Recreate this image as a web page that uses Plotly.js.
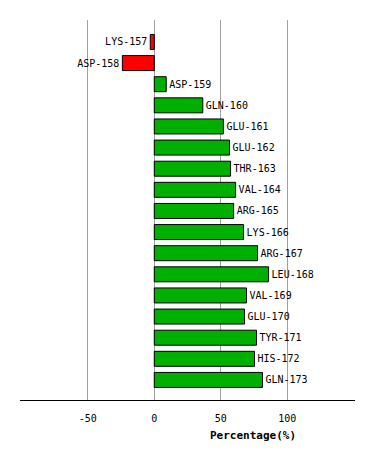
<!DOCTYPE html>
<html><head><meta charset="utf-8">
<script src="https://cdn.plot.ly/plotly-3.0.1.min.js"></script>
<style>html,body{margin:0;padding:0;background:#fff}</style>
</head><body><div id="chart" style="width:374px;height:460px"></div>
<script>
var residues = ["LYS-157","ASP-158","ASP-159","GLN-160","GLU-161","GLU-162","THR-163","VAL-164","ARG-165","LYS-166","ARG-167","LEU-168","VAL-169","GLU-170","TYR-171","HIS-172","GLN-173"];
var percentages = [-3, -24, 9, 36.5, 52, 56.6, 57.4, 61.2, 59.7, 67.2, 77.7, 86, 69.4, 67.9, 76.9, 75.4, 81.4];
var xTicks = [-50, 0, 50, 100];
var xTitle = "Percentage(%)";

var colors = percentages.map(function(v){ return v < 0 ? "#ff0000" : "#00b000"; });
var mono = "DejaVu Sans Mono, monospace";

var trace = {
  type: "bar", orientation: "h",
  x: percentages, y: residues,
  text: residues, textposition: "outside", cliponaxis: false,
  textfont: {family: mono, size: 10, color: "#000"},
  marker: {color: colors, line: {color: "#000", width: 1}},
  width: 0.71, hoverinfo: "none"
};

var layout = {
  width: 374, height: 460,
  margin: {l: 20, r: 19, t: 20, b: 60},
  paper_bgcolor: "#fff", plot_bgcolor: "#fff",
  showlegend: false,
  font: {family: mono, size: 10, color: "#000"},
  xaxis: {
    range: [-101, 151], tickvals: xTicks, ticktext: xTicks.map(String),
    showgrid: true, gridcolor: "#a0a0a0", gridwidth: 1,
    zeroline: true, zerolinecolor: "#a0a0a0", zerolinewidth: 1,
    showline: true, linecolor: "#000", linewidth: 1,
    ticks: "outside", ticklen: 9, tickcolor: "rgba(0,0,0,0)",
    tickfont: {family: mono, size: 10, color: "#000"},
    fixedrange: true
  },
  yaxis: {
    type: "category", range: [16.95, -1.04],
    showticklabels: false, showgrid: false, zeroline: false, showline: false, ticks: "",
    fixedrange: true
  },
  annotations: [{
    text: "<b>" + xTitle + "</b>", xref: "paper", yref: "paper",
    x: 0.696, y: 0, yshift: -35, xanchor: "center", yanchor: "middle",
    showarrow: false, font: {family: mono, size: 11, color: "#000"}
  }]
};

Plotly.newPlot("chart", [trace], layout, {displayModeBar: false, staticPlot: true});
</script></body></html>
